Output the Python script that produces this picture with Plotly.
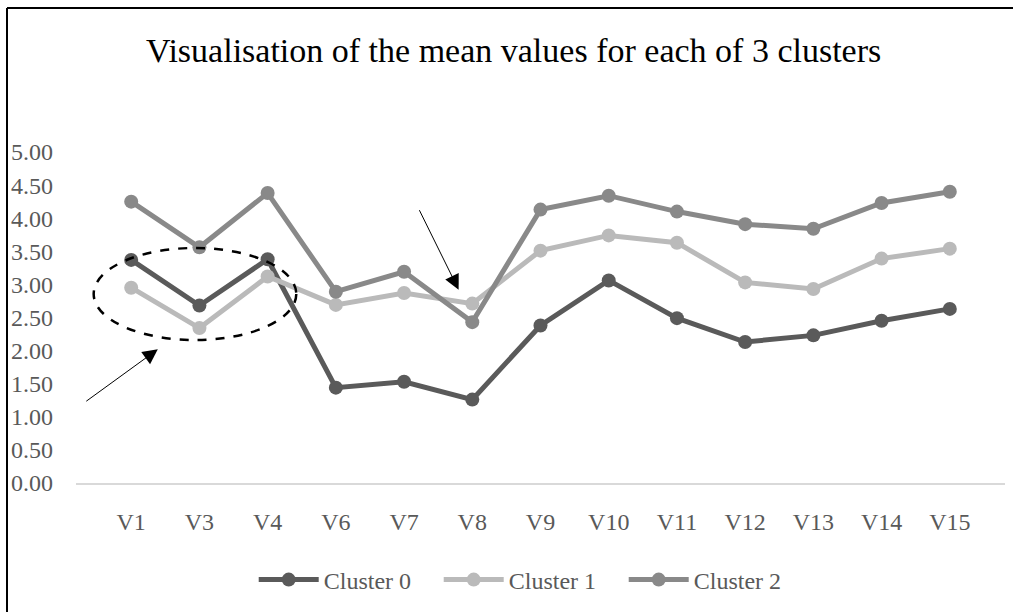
import plotly.graph_objects as go

variables = ['V1', 'V3', 'V4', 'V6', 'V7', 'V8', 'V9', 'V10', 'V11', 'V12', 'V13', 'V14', 'V15']

cluster_0 = [3.37, 2.68, 3.38, 1.44, 1.53, 1.26, 2.38, 3.06, 2.49, 2.13, 2.23, 2.45, 2.63]
cluster_1 = [2.95, 2.34, 3.12, 2.69, 2.87, 2.71, 3.51, 3.74, 3.63, 3.03, 2.93, 3.39, 3.54]
cluster_2 = [4.25, 3.56, 4.38, 2.89, 3.19, 2.43, 4.13, 4.34, 4.10, 3.91, 3.84, 4.23, 4.40]

y_ticks = [0, 0.5, 1, 1.5, 2, 2.5, 3, 3.5, 4, 4.5, 5]

series = [
    ('Cluster 0', cluster_0, '#5a5a5a'),
    ('Cluster 1', cluster_1, '#bababa'),
    ('Cluster 2', cluster_2, '#898989'),
]

serif = 'Liberation Serif, Times New Roman, serif'

fig = go.Figure()

for name, values, colour in series:
    fig.add_trace(go.Scatter(x=variables, y=values,
                             mode='lines+markers',
                             line=dict(color=colour, width=5),
                             marker=dict(color=colour, size=14),
                             name=name))

# plot area in pixels: left 76, right 1005, top 152, bottom 483
fig.update_layout(
    width=1013, height=612,
    margin=dict(l=76, r=8, t=152, b=129),
    paper_bgcolor='white',
    plot_bgcolor='white',
    title=dict(text='Visualisation of the mean values for each of 3 clusters',
               font=dict(family=serif, size=34, color='black'),
               x=0.507, xanchor='center',
               y=1 - 50 / 612, yanchor='middle'),
    xaxis=dict(showgrid=False, zeroline=False,
               showline=True, linecolor='#d9d9d9', linewidth=1.5,
               tickfont=dict(family=serif, size=24, color='#595959'),
               ticklabelstandoff=16),
    yaxis=dict(range=[0, 5], tickvals=y_ticks, tickformat='.2f',
               showgrid=False, zeroline=False, showline=False,
               tickfont=dict(family=serif, size=24, color='#595959'),
               ticklabelstandoff=22),
    legend=dict(orientation='h',
                x=0.49, xanchor='center',
                y=(483 - 580) / 331, yanchor='middle',
                font=dict(family=serif, size=24, color='#595959'),
                itemwidth=60,
                entrywidth=110, entrywidthmode='pixels'),
    showlegend=True,
)

# dashed ellipse round the first three variables
fig.add_shape(type='circle', xref='x', yref='y',
              x0=-0.55, x1=2.42, y0=2.16, y1=3.55,
              line=dict(color='black', width=2.5, dash='dash'))

# arrows
fig.add_annotation(x=0.39, y=2.02, xref='x', yref='y',
                   ax=-73, ay=53, text='', showarrow=True,
                   arrowhead=2, arrowsize=3, arrowwidth=1, arrowcolor='black')
fig.add_annotation(x=4.8, y=2.92, xref='x', yref='y',
                   ax=-40, ay=-81, text='', showarrow=True,
                   arrowhead=2, arrowsize=3, arrowwidth=1, arrowcolor='black')

# chart border (top and left edges)
fig.add_shape(type='line', xref='paper', yref='paper',
              x0=(7 - 76) / 929, x1=(1013 - 76) / 929,
              y0=(483 - 8) / 331, y1=(483 - 8) / 331,
              line=dict(color='black', width=2))
fig.add_shape(type='line', xref='paper', yref='paper',
              x0=(7 - 76) / 929, x1=(7 - 76) / 929,
              y0=(483 - 8) / 331, y1=(483 - 612) / 331,
              line=dict(color='black', width=2))

fig.write_html("out.html", config={'displayModeBar': False},
               post_script="document.body.style.margin='0';")
